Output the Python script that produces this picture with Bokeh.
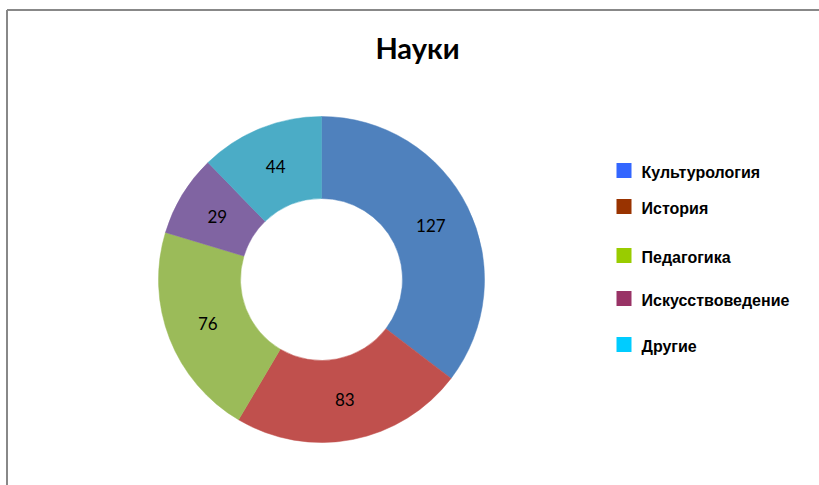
import numpy as np
from bokeh.plotting import figure
from bokeh.models import Range1d, ColumnDataSource
from bokeh.core.properties import value
from bokeh.embed import file_html
from bokeh.resources import INLINE

title = "Науки"
categories = ["Культурология", "История", "Педагогика", "Искусствоведение", "Другие"]
values = [127, 83, 76, 29, 44]
slice_colors = ["#4F81BD", "#C0504D", "#9BBB59", "#8064A2", "#4BACC6"]
legend_colors = ["#3366FF", "#993300", "#99CC00", "#993366", "#00CCFF"]

W, H = 819, 485
p = figure(width=W, height=H, x_range=Range1d(0, W), y_range=Range1d(0, H),
           output_backend="svg", toolbar_location=None, min_border=0)
p.axis.visible = False
p.grid.visible = False
p.outline_line_color = None
p.background_fill_color = "white"

def Y(py):
    return H - py

cx, cy = 321, Y(279)
r_out, r_in = 163, 81

vals = np.array(values, dtype=float)
fr = vals / vals.sum()
ends = np.cumsum(fr) * 2 * np.pi
starts = ends - fr * 2 * np.pi
start_a = np.pi / 2 - starts
end_a = np.pi / 2 - ends
mid = (start_a + end_a) / 2
r_lab = (r_out + r_in) / 2

src = ColumnDataSource(dict(start=start_a, end=end_a, color=slice_colors,
                            lx=cx + r_lab * np.cos(mid), ly=cy + r_lab * np.sin(mid),
                            lab=[str(v) for v in values]))
p.annular_wedge(x=cx, y=cy, inner_radius=r_in, outer_radius=r_out,
                start_angle="start", end_angle="end", direction="clock",
                fill_color="color", line_color="color", line_width=0.5, source=src)
p.text(x="lx", y="ly", text="lab", source=src, text_align="center", text_baseline="middle",
       text_font=value("Lato"), text_font_size="17px", text_color="#000000")

# title
p.text(x=[417], y=[Y(47)], text=[title], text_align="center", text_baseline="middle",
       text_font=value("Lato"), text_font_size="29px", text_font_style="bold", text_color="#000000")

# legend
leg_y = [170, 206, 255, 298, 344]
p.rect(x=[623.5] * 5, y=[Y(v) for v in leg_y], width=15, height=15,
       fill_color=legend_colors, line_color=None)
p.text(x=[641] * 5, y=[Y(v + 2) for v in leg_y], text=categories, text_align="left",
       text_baseline="middle", text_font=value("Liberation Sans"), text_font_size="16px",
       text_font_style="bold", text_color="#000000")

# frame (left and top edges)
p.segment(x0=[6.5, 6.5], y0=[0, Y(9.5)], x1=[6.5, W], y1=[Y(9.5), Y(9.5)],
          line_color="#888888", line_width=2)

open("out.html", "w").write(file_html(p, INLINE))
